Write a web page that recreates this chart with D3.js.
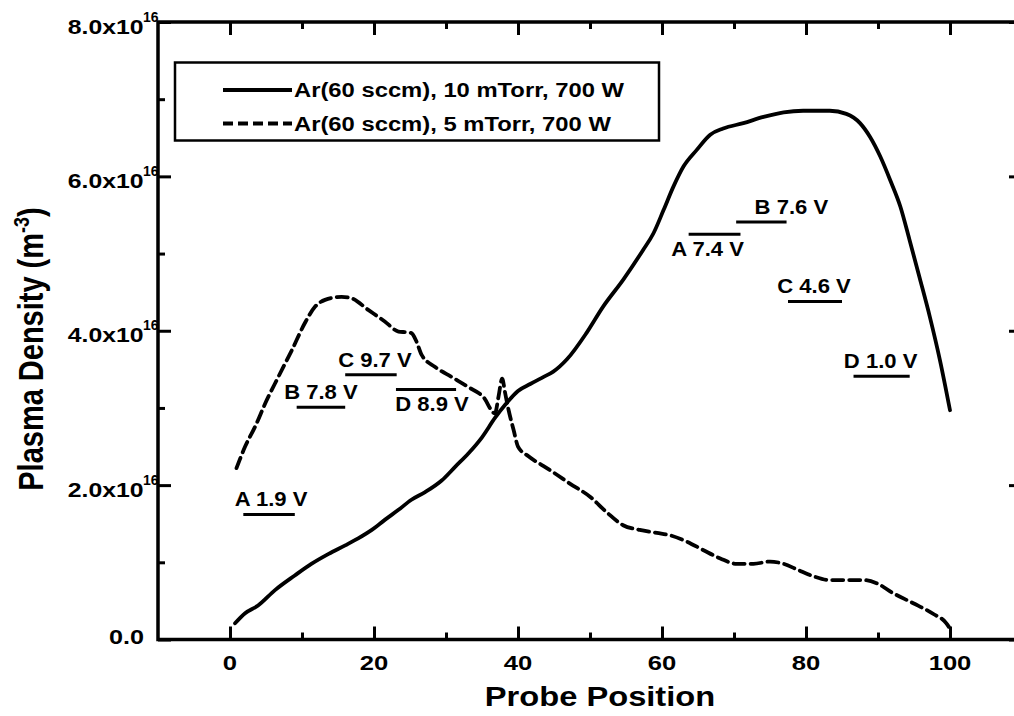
<!DOCTYPE html>
<html>
<head>
<meta charset="utf-8">
<script src="https://cdn.jsdelivr.net/npm/d3@7/dist/d3.min.js"></script>
<style>
  body { margin: 0; background: #fff; }
  svg { display: block; font-family: "Liberation Sans", Arial, Helvetica, sans-serif; }
</style>
</head>
<body>
<script>
// Langmuir probe scan: plasma density (units of 1e16 m^-3) vs probe position
const position10mTorr = [0.7, 2.1, 3.9, 6.25, 9.0, 11.3, 13.7, 16.0, 17.8, 19.7, 21.5, 23.4, 25.2, 27.1,
  29.4, 31.3, 33.1, 35.0, 36.8, 38.3, 40.0, 41.7, 43.5, 44.9, 46.8, 49.5, 51.8, 54.6, 57.4, 58.8,
  60.2, 61.6, 63.0, 64.8, 66.7, 68.5, 71.3, 74.1, 76.9, 79.6, 83.3, 85.6, 87.5, 88.9, 90.3, 91.7,
  93.1, 94.4, 95.8, 97.2, 98.6, 100.0];
const density10mTorr = [0.21, 0.34, 0.44, 0.64, 0.83, 0.98, 1.11, 1.22, 1.31, 1.42, 1.55, 1.68, 1.81, 1.91,
  2.06, 2.24, 2.41, 2.62, 2.87, 3.05, 3.22, 3.31, 3.40, 3.47, 3.63, 3.97, 4.31, 4.66, 5.05, 5.26,
  5.56, 5.87, 6.13, 6.34, 6.54, 6.62, 6.69, 6.77, 6.83, 6.85, 6.85, 6.81, 6.69, 6.51, 6.26, 5.95,
  5.61, 5.17, 4.68, 4.18, 3.62, 2.97];

const position5mTorr = [0.9, 2.1, 3.5, 4.9, 6.7, 8.6, 10.4, 11.8, 13.2, 15.5, 16.9, 19.2, 21.5, 23.4,
  24.5, 25.2, 25.9, 26.6, 28.5, 30.8, 33.1, 35.2, 36.8, 37.3, 37.8, 38.2, 38.7, 39.4, 40.0, 41.5,
  43.5, 45.0, 47.2, 50.0, 52.3, 54.6, 56.9, 59.3, 61.1, 63.4, 65.7, 68.1, 70.4, 72.7, 75.0, 76.9,
  78.7, 81.0, 83.3, 85.6, 88.0, 89.8, 92.1, 94.9, 97.7, 99.5, 100.0];
const density5mTorr = [2.22, 2.50, 2.76, 3.06, 3.40, 3.75, 4.10, 4.31, 4.40, 4.44, 4.42, 4.27, 4.12, 3.99,
  3.98, 3.97, 3.86, 3.69, 3.53, 3.40, 3.27, 3.14, 2.93, 3.15, 3.38, 3.20, 2.97, 2.71, 2.50, 2.37,
  2.25, 2.16, 2.02, 1.85, 1.65, 1.48, 1.42, 1.38, 1.35, 1.27, 1.16, 1.05, 0.98, 0.98, 1.01, 0.98,
  0.91, 0.82, 0.77, 0.77, 0.77, 0.73, 0.60, 0.47, 0.33, 0.21, 0.14];

const seriesNames = ["Ar(60 sccm), 10 mTorr, 700 W", "Ar(60 sccm), 5 mTorr, 700 W"];

const xMajorTicks = [0, 20, 40, 60, 80, 100];
const xMinorTicks = [10, 30, 50, 70, 90];
const yMajorTicks = [0, 2, 4, 6, 8];
const yMinorTicks = [1, 3, 5, 7];
const yExponent = "16";

// Probe regions (position span, density level) and their floating potentials
const regionLetters = ["A", "B", "C", "D", "A", "B", "C", "D"];
const regionVolts = ["1.9", "7.8", "9.7", "8.9", "7.4", "7.6", "4.6", "1.0"];
const regionStart = [1.85, 9.26, 16.0, 23.05, 63.7, 70.3, 77.5, 86.6];
const regionEnd = [9.0, 16.0, 23.15, 31.4, 70.9, 77.3, 85.0, 94.4];
const regionLevel = [1.62, 3.01, 3.43, 3.24, 5.25, 5.41, 4.38, 3.41];

// ---------------------------------------------------------------------------
const W = 1014, H = 716;
const svg = d3.select("body").append("svg").attr("width", W).attr("height", H);

const x = d3.scaleLinear().domain([-10, 110]).range([158, 1022]);
const y = d3.scaleLinear().domain([0, 8]).range([639.5, 22]);
const plotLeft = x.range()[0], plotRight = x.range()[1];
const plotBottom = y.range()[0], plotTop = y.range()[1];

// text helper: anchored at (px, py), widened horizontally by factor s
function label(parent, px, py, s, opts) {
  const g = parent.append("g").attr("transform", `translate(${px},${py}) scale(${s},1)`);
  const t = g.append("text")
    .attr("x", 0).attr("y", 0)
    .attr("text-anchor", opts.anchor || "start")
    .attr("font-size", opts.size)
    .attr("font-weight", "bold")
    .attr("fill", "#000");
  if (opts.text !== undefined) t.text(opts.text);
  return t;
}

// Y tick labels (drawn before the frame so the axis overlays the exponent)
yMajorTicks.forEach(v => {
  if (v === 0) {
    label(svg, 144, y(v) + 4, 1.2, { size: 21, anchor: "end", text: d3.format(".1f")(v) });
  } else {
    label(svg, 143.5, y(v) + 11.5, 1.18, { size: 21, anchor: "end", text: d3.format(".1f")(v) + "x10" });
    label(svg, 143, y(v) - 0.5, 1.0, { size: 14, anchor: "start", text: yExponent });
  }
});

// X tick labels
xMajorTicks.forEach(v => {
  label(svg, x(v), 670, 1.22, { size: 21, anchor: "middle", text: String(v) });
});

// Ticks on all four sides, pointing inward
function ticks(axisGen, transform, values, size) {
  svg.append("g").attr("transform", transform)
    .call(axisGen.tickValues(values).tickSizeInner(-size).tickSizeOuter(0).tickFormat(""))
    .call(g => g.select(".domain").remove())
    .call(g => g.selectAll("line").attr("stroke", "#000").attr("stroke-width", 3));
}
ticks(d3.axisBottom(x), `translate(0,${plotBottom})`, xMajorTicks, 13);
ticks(d3.axisBottom(x), `translate(0,${plotBottom})`, xMinorTicks, 7);
ticks(d3.axisTop(x), `translate(0,${plotTop})`, xMajorTicks, 13);
ticks(d3.axisTop(x), `translate(0,${plotTop})`, xMinorTicks, 7);
ticks(d3.axisLeft(y), `translate(${plotLeft},0)`, yMajorTicks, 13);
ticks(d3.axisLeft(y), `translate(${plotLeft},0)`, yMinorTicks, 7);
ticks(d3.axisRight(y), `translate(${plotRight},0)`, yMajorTicks, 13);
ticks(d3.axisRight(y), `translate(${plotRight},0)`, yMinorTicks, 7);

// Plot frame
svg.append("rect")
  .attr("x", plotLeft).attr("y", plotTop)
  .attr("width", plotRight - plotLeft).attr("height", plotBottom - plotTop)
  .attr("fill", "none").attr("stroke", "#000").attr("stroke-width", 3.5);

// Density curves
const lineGen = d3.line()
  .x(d => x(d[0]))
  .y(d => y(d[1]))
  .curve(d3.curveMonotoneX);

const series10 = position10mTorr.map((p, i) => [p, density10mTorr[i]]);
const series5 = position5mTorr.map((p, i) => [p, density5mTorr[i]]);

svg.append("path").datum(series10)
  .attr("d", lineGen)
  .attr("fill", "none").attr("stroke", "#000")
  .attr("stroke-width", 3.8).attr("stroke-linejoin", "round").attr("stroke-linecap", "round");

svg.append("path").datum(series5)
  .attr("d", lineGen)
  .attr("fill", "none").attr("stroke", "#000")
  .attr("stroke-width", 3.8).attr("stroke-dasharray", "11,6")
  .attr("stroke-linecap", "round");

// Probe-region markers with potentials
const labelBelow = new Set([3, 4]);
const labelNudge = [2, 0, 4, 6, -7, 30, -1, -1];
regionLetters.forEach((letter, i) => {
  const x0 = x(regionStart[i]), x1 = x(regionEnd[i]), ly = y(regionLevel[i]);
  svg.append("line")
    .attr("x1", x0).attr("x2", x1).attr("y1", ly).attr("y2", ly)
    .attr("stroke", "#000").attr("stroke-width", 3);
  const ty = labelBelow.has(i) ? ly + 22 : ly - 8;
  label(svg, (x0 + x1) / 2 + labelNudge[i], ty, 1.05,
    { size: 21, anchor: "middle", text: `${letter} ${regionVolts[i]} V` });
});

// Legend
const legend = svg.append("g");
legend.append("rect")
  .attr("x", 175).attr("y", 62.5).attr("width", 484).attr("height", 78)
  .attr("fill", "#fff").attr("stroke", "#000").attr("stroke-width", 2.5);
const legendRows = [97, 130.5];
seriesNames.forEach((name, i) => {
  const by = legendRows[i];
  legend.append("line")
    .attr("x1", 223).attr("x2", 292).attr("y1", by - 7).attr("y2", by - 7)
    .attr("stroke", "#000").attr("stroke-width", 3.8)
    .attr("stroke-dasharray", i === 1 ? "10,5" : null);
  label(legend, 294, by, 1.19, { size: 20, anchor: "start", text: name });
});

// Axis titles
label(svg, 600, 706, 1.21, { size: 27, anchor: "middle", text: "Probe Position" });

const yTitle = svg.append("g")
  .attr("transform", "translate(43,349) scale(1.2,1) rotate(-90)")
  .append("text")
  .attr("text-anchor", "middle")
  .attr("font-size", 29).attr("font-weight", "bold").attr("fill", "#000");
yTitle.append("tspan").text("Plasma Density (m");
yTitle.append("tspan").attr("dy", -12).attr("font-size", 18).text("-3");
yTitle.append("tspan").attr("dy", 12).text(")");
</script>
</body>
</html>
